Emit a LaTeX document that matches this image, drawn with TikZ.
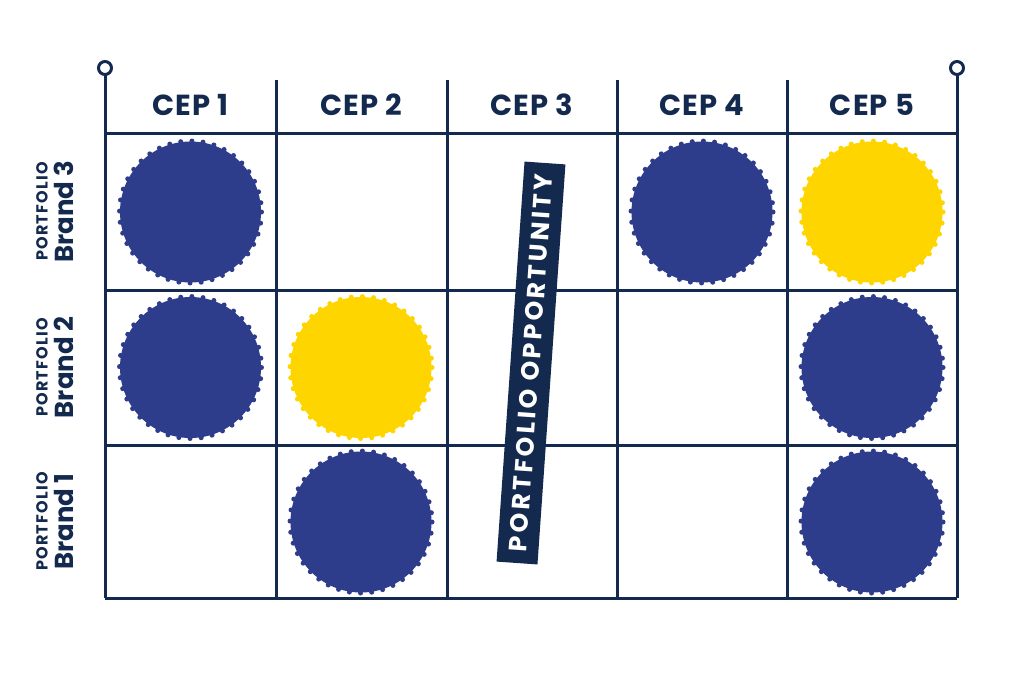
\documentclass[tikz,border=0pt]{standalone}
\usepackage{fontspec}
\setmainfont{Poppins}
\definecolor{navy}{HTML}{132A4E}
\definecolor{cblue}{HTML}{2E3C8C}
\definecolor{cyellow}{HTML}{FFD500}
\begin{document}
\begin{tikzpicture}[x=1pt,y=-1pt,
  gridline/.style={draw=navy, line width=3pt},
  hdr/.style={text=navy, font=\fontsize{29}{29}\selectfont\bfseries\addfontfeature{LetterSpace=4}},
  small/.style={text=navy, rotate=90, font=\fontsize{16}{16}\selectfont\bfseries\addfontfeature{LetterSpace=8}},
  brand/.style={text=navy, rotate=90, font=\fontsize{26}{26}\selectfont\bfseries},
  blobfill/.style={fill=#1},
  blobedge/.style={draw=#1, line width=5pt, line cap=round, dash pattern=on 0pt off 11.2pt},
  pin/.style={draw=navy, line width=3pt, fill=white}]
\useasboundingbox (0,0) rectangle (1024,681);
\fill[white] (0,0) rectangle (1024,681);
% circles
\foreach \x/\y/\c in {190.5/212/cblue, 702/212/cblue, 872/212/cyellow,
                      190.5/367.5/cblue, 361/367.5/cyellow, 872/367.5/cblue,
                      361/522/cblue, 872/522/cblue}{
  \fill[blobfill=\c] (\x,\y) circle (70.5);
  \draw[blobedge=\c] (\x,\y) circle (71);
}
% grid
\coordinate (tl) at (105,75);
\coordinate (tr) at (957,75);
\coordinate (bl) at (105,598);
\coordinate (br) at (957,598);
\draw[gridline] (tl) -- (bl);
\draw[gridline] (tr) -- (br);
\foreach \x in {276,447,617,787}{
  \draw[gridline] (\x,80) -- (\x,598);
}
\foreach \y in {133,290,445,598}{
  \draw[gridline] (105,\y) -- (957,\y);
}
\draw[pin] (105,68) circle (6.5);
\draw[pin] (957,68) circle (6.5);
% headers
\node[hdr] (c1) at (190.5,105) {CEP 1};
\node[hdr] (c2) at (361.5,105) {CEP 2};
\node[hdr] (c3) at (532,105) {CEP 3};
\node[hdr] (c4) at (702,105) {CEP 4};
\node[hdr] (c5) at (872,105) {CEP 5};
% row labels
\node[small] (p3) at (42,211.5) {PORTFOLIO};
\node[brand] (b3) at (64,211.5) {Brand 3};
\node[small] (p2) at (42,367.5) {PORTFOLIO};
\node[brand] (b2) at (64,367.5) {Brand 2};
\node[small] (p1) at (42,521.5) {PORTFOLIO};
\node[brand] (b1) at (64,521.5) {Brand 1};
% opportunity banner
\node[fill=navy, text=white, rotate=86, minimum width=401pt, minimum height=41pt,
      inner sep=0pt, font=\fontsize{25}{25}\selectfont\bfseries\addfontfeature{LetterSpace=12}]
      (opp) at (531,363) {PORTFOLIO OPPORTUNITY};
\end{tikzpicture}
\end{document}
